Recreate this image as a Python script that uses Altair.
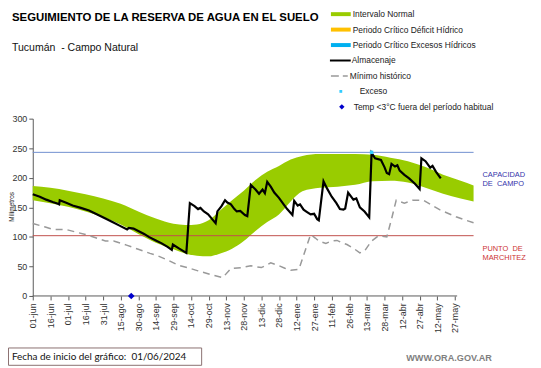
import json
import altair as alt
import pandas as pd

# ---------------- data (x = days since 01/06/2024, y = mm) ----------------
band_days  = [0, 15, 30, 45, 60, 75, 90, 105, 120, 130, 140, 150, 160, 170, 180, 190, 200, 210, 220, 230, 245, 260, 275, 290, 305, 320, 335, 350, 365, 376]
band_upper = [186, 183, 178, 172, 165, 156, 143, 131, 122, 120, 121, 128, 145, 162, 178, 196, 210, 220, 231, 237, 240, 240, 240, 239, 234, 228, 218, 205, 195, 187]
band_lower = [162, 157, 151, 143, 133, 121, 105, 90, 79, 72, 68, 67, 72, 80, 93, 110, 125, 138, 160, 177, 183, 185, 188, 194, 195, 192, 183, 173, 165, 160]

alm_days   = [0, 6, 11.5, 17, 21.5, 22.5, 23, 28, 34, 41, 48, 55, 62, 68, 74, 80.5, 82, 86, 90, 95, 99, 105, 110, 115, 118.6, 119.5, 125, 131,
              134, 138, 141, 143, 146, 149.6, 153, 156, 157.5, 161, 164, 166, 169, 172, 174, 177, 181, 183, 186, 190, 193, 196, 198, 200,
              203, 206, 210, 214, 217, 221.5, 223, 226, 228, 231, 234, 237, 240, 242.6, 244, 248, 251, 255, 259, 262, 265, 266.5, 269,
              273.5, 276, 279, 283, 287, 289, 292, 297, 300, 302, 304, 306, 309, 311, 313, 317, 321, 326, 330, 331.5, 335, 339, 341, 344, 348]
alm_values = [172, 168, 163, 159, 156, 155, 162, 158, 153, 149, 144.5, 138, 131, 125, 119, 112.6, 115, 114, 110, 105, 100, 94, 89, 83, 78, 87, 80, 73,
              157, 152, 147, 149, 143, 138, 130, 123, 143, 152, 162, 158, 155, 147, 143, 144, 137, 135, 188, 180, 173, 180, 174, 193,
              185, 175, 166, 155, 147, 137, 161, 153, 155, 146, 142, 138, 139, 130, 128, 194, 182, 168, 157, 147, 146, 148, 175,
              163, 165, 150, 143, 133, 242, 233, 230, 218, 208, 206, 223.5, 219, 221, 212, 205, 199, 190, 181, 233, 228, 217, 220, 210, 199]

min_days   = [0, 10, 17, 28, 37, 45, 53, 62, 69, 80, 90, 100, 107, 116, 124, 132, 141, 152, 162, 169, 178, 186, 195, 203, 209, 215, 220, 227,
              237, 241, 244, 250, 255, 259.5, 264, 268, 274, 279, 283, 289, 295, 302, 306, 310, 317, 324, 333, 340, 347, 354, 361, 368, 376]
min_values = [122.7, 117, 112.6, 112.6, 108, 104, 99, 93, 93, 86, 79, 72, 67.7, 60, 52, 48, 42.5, 36, 31, 46.5, 48, 51, 48, 56, 52, 47, 43.7, 45,
              104, 98, 93, 89, 93, 94, 90, 87, 80, 73, 76, 93, 102, 100, 130, 162, 157, 162, 162, 154, 146, 140, 134, 129, 124]

exceso_days, exceso_values = [289], [243]
frio_days, frio_values = [84], [0]

capacidad_campo = 243
punto_marchitez = 102

tick_days = list(range(0, 361, 15))
tick_labels = ["01-jun", "16-jun", "01-jul", "16-jul", "31-jul", "15-ago", "30-ago", "14-sep", "29-sep", "14-oct",
               "29-oct", "13-nov", "28-nov", "13-dic", "28-dic", "12-ene", "27-ene", "11-feb", "26-feb", "13-mar",
               "28-mar", "12-abr", "27-abr", "12-may", "27-may"]
y_ticks = [0, 50, 100, 150, 200, 250, 300]

NB = "\u00a0"
title_text = "SEGUIMIENTO DE LA RESERVA DE AGUA EN EL SUELO"
subtitle_text = "Tucumán" + NB + NB + "- Campo Natural"
legend_labels = ["Intervalo Normal", "Periodo Crítico Déficit Hídrico", "Periodo Crítico Excesos Hídricos",
                 "Almacenaje", "Mínimo histórico", "Exceso", "Temp <3°C fuera del período habitual"]
cap_text = "CAPACIDAD\nDE" + NB + NB + "CAMPO"
pm_text = "PUNTO" + NB + NB + "DE\nMARCHITEZ"
fecha_text = "Fecha de inicio del gráfico:" + NB + NB + "01/06/2024"
web_text = "WWW.ORA.GOV.AR"

# ---------------- layout ----------------
W, H = 445, 179
FONT = "Liberation Sans"
xs = alt.Scale(domain=[0, 376], nice=False, zero=False)
ys = alt.Scale(domain=[0, 300], nice=False)

band_df = pd.DataFrame({"day": band_days, "up": band_upper, "lo": band_lower})
alm_df = pd.DataFrame({"day": alm_days, "mm": alm_values})
min_df = pd.DataFrame({"day": min_days, "mm": min_values})
exc_df = pd.DataFrame({"day": exceso_days, "mm": exceso_values})
frio_df = pd.DataFrame({"day": frio_days, "mm": frio_values})
one = pd.DataFrame({"a": [0]})

label_expr = json.dumps(tick_labels) + "[round(datum.value / 15)]"
x_axis = alt.Axis(values=tick_days, labelExpr=label_expr, labelAngle=-90, labelAlign="right",
                  labelBaseline="middle", labelFontSize=9, labelFont=FONT, labelColor="#333333",
                  labelPadding=3, tickSize=4, tickColor="#595959", domain=False, grid=False,
                  labelOverlap=False, labelFlush=False, title=None)
y_axis = alt.Axis(values=y_ticks, labelFontSize=9, labelFont=FONT, labelColor="#333333",
                  labelPadding=2, tickSize=4, tickColor="#595959", domainColor="#595959",
                  grid=False, title=None)

X = lambda f: alt.X(f, scale=xs, axis=x_axis, title=None)
Y = lambda f: alt.Y(f, scale=ys, axis=y_axis, title=None)

band = alt.Chart(band_df).mark_area(color="#99cc00", interpolate="monotone", opacity=1).encode(
    x=X("day:Q"), y=Y("up:Q"), y2="lo:Q")

hlines_df = pd.DataFrame({"day": [0], "day2": [376], "cc": [capacidad_campo], "pm": [punto_marchitez]})
cap_line = alt.Chart(hlines_df).mark_rule(color="#6f8fcf", strokeWidth=1).encode(
    x=X("day:Q"), x2="day2:Q", y=Y("cc:Q"))
pm_line = alt.Chart(hlines_df).mark_rule(color="#c0504d", strokeWidth=1).encode(
    x=X("day:Q"), x2="day2:Q", y=Y("pm:Q"))

axis_df = pd.DataFrame({"day": [0], "day2": [362], "mm": [0]})
x_domain = alt.Chart(axis_df).mark_rule(color="#595959", strokeWidth=1).encode(
    x=X("day:Q"), x2="day2:Q", y=Y("mm:Q"))

minimo = alt.Chart(min_df).mark_line(color="#999999", strokeWidth=1.5, strokeDash=[7, 5]).encode(
    x=X("day:Q"), y=Y("mm:Q"))
alm = alt.Chart(alm_df).mark_line(color="#000000", strokeWidth=2.2).encode(
    x=X("day:Q"), y=Y("mm:Q"))
exc = alt.Chart(exc_df).mark_point(shape="square", filled=True, size=12, color="#33ccff", opacity=1).encode(
    x=X("day:Q"), y=Y("mm:Q"))
frio = alt.Chart(frio_df).mark_point(shape="diamond", filled=True, size=45, color="#0000cc", opacity=1).encode(
    x=X("day:Q"), y=Y("mm:Q"))


def txt(text, x, y, size, color="#000000", weight="normal", align="left", baseline="middle", angle=0, font=FONT):
    return alt.Chart(pd.DataFrame({"t": [text]})).mark_text(
        align=align, baseline=baseline, fontSize=size, fontWeight=weight, color=color, font=font, angle=angle,
        lineBreak="\n", lineHeight=size + 1
    ).encode(x=alt.value(x), y=alt.value(y), text="t:N")


layers = [band, cap_line, pm_line, x_domain, minimo, alm, exc, frio]

# titles
layers.append(txt(title_text, -21, -99, 11.5, weight="bold", baseline="alphabetic"))
layers.append(txt(subtitle_text, -21, -68, 10.6, color="#111111", baseline="alphabetic"))
layers.append(txt("Milímetros", -21.3, 89, 6.5, color="#222222", align="center", angle=270))

# legend
leg_y0, leg_dy = -105.5, 15.6
leg_colors = ["#99cc00", "#ffc000", "#00b0f0"]
for i, c in enumerate(leg_colors):
    layers.append(alt.Chart(one).mark_rule(color=c, strokeWidth=4).encode(
        x=alt.value(301), x2=alt.value(321), y=alt.value(leg_y0 + i * leg_dy)))
layers.append(alt.Chart(one).mark_rule(color="#000000", strokeWidth=2).encode(
    x=alt.value(300), x2=alt.value(321), y=alt.value(leg_y0 + 3 * leg_dy)))
layers.append(alt.Chart(one).mark_rule(color="#999999", strokeWidth=1.5, strokeDash=[8, 4]).encode(
    x=alt.value(301), x2=alt.value(318), y=alt.value(leg_y0 + 4 * leg_dy)))
layers.append(alt.Chart(one).mark_point(shape="square", filled=True, size=8, color="#33ccff", opacity=1).encode(
    x=alt.value(311), y=alt.value(leg_y0 + 5 * leg_dy)))
layers.append(alt.Chart(one).mark_point(shape="diamond", filled=True, size=30, color="#0000cc", opacity=1).encode(
    x=alt.value(312), y=alt.value(leg_y0 + 6 * leg_dy)))
leg_text_x = [323, 323, 323, 322, 320, 330, 324]
for i, lab in enumerate(legend_labels):
    layers.append(txt(lab, leg_text_x[i], leg_y0 + i * leg_dy, 8.5, color="#222222"))

# right annotations
layers.append(txt(cap_text, 454, 57, 7.5, color="#3333aa"))
layers.append(txt(pm_text, 454, 132, 7.5, color="#cc3333"))

# footer
layers.append(alt.Chart(one).mark_rect(fill="white", stroke="#8b7070", strokeWidth=1).encode(
    x=alt.value(-24.5), x2=alt.value(170.5), y=alt.value(231.5), y2=alt.value(249)))
layers.append(txt(fecha_text, -21, 240.5, 10, color="#111111", font="Lato"))
layers.append(txt(web_text, 377, 242, 9.2, color="#808080", weight="bold"))

chart = alt.layer(*layers).properties(
    width=W, height=H,
    autosize=alt.AutoSizeParams(type="none"),
    padding={"left": 25, "top": 110, "right": 60, "bottom": 70},
).configure_view(stroke=None).configure_axisX(labelOverlap=False)

chart.save("out.html", embed_options={"renderer": "svg", "actions": False})
